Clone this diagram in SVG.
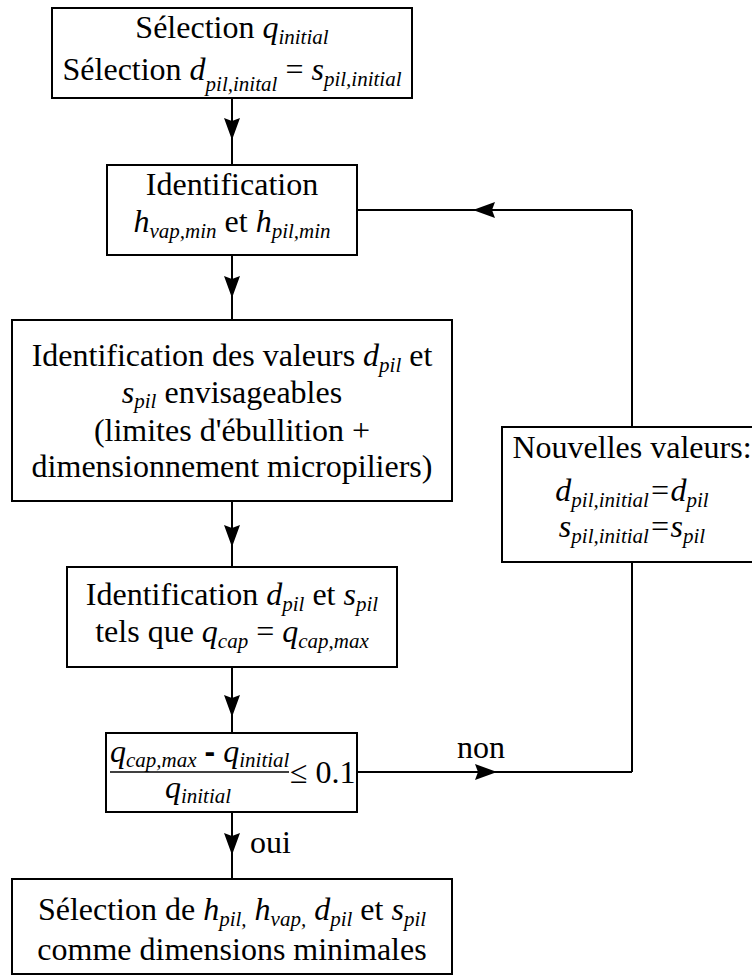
<svg xmlns="http://www.w3.org/2000/svg" width="752" height="976" viewBox="0 0 752 976">
<style>
.box{fill:#fff;stroke:#000;stroke-width:2}
.t{font-family:"Liberation Serif","Times New Roman",serif;font-size:32px;fill:#000}
.m{text-anchor:middle}
.i{font-style:italic}
.s{font-style:italic;font-size:21px}
.mn{font-family:"Liberation Sans",Arial,sans-serif;font-weight:bold}
.c{fill:none;stroke:#000;stroke-width:2}
</style>
<defs>
<marker id="arr" viewBox="0 0 22 16" refX="22" refY="8" markerWidth="22" markerHeight="16" markerUnits="userSpaceOnUse" orient="auto"><path d="M0,0 L22,8 L0,16 L3,8 z" fill="#000"/></marker>
</defs>
<rect width="752" height="976" fill="#fff"/>
<g id="connectors">
<path class="c" d="M232,98 L232,140 L232,165" marker-mid="url(#arr)"/>
<path class="c" d="M232,255 L232,298 L232,320" marker-mid="url(#arr)"/>
<path class="c" d="M232,501 L232,547 L232,567" marker-mid="url(#arr)"/>
<path class="c" d="M232,667 L232,717 L232,733" marker-mid="url(#arr)"/>
<path class="c" d="M232,812 L232,855 L232,879" marker-mid="url(#arr)"/>
<path class="c" d="M357,772 L497,772 L632,772" marker-mid="url(#arr)"/>
<path class="c" d="M632,772 L632,562"/>
<path class="c" d="M632,427 L632,210"/>
<path class="c" d="M632,210 L473,210 L357,210" marker-mid="url(#arr)"/>
<text class="t" x="457" y="758">non</text>
<text class="t" x="250" y="853">oui</text>
</g>
<g id="n1">
<rect class="box" x="52" y="8" width="360" height="90"/>
<text class="t m" x="232" y="38">Sélection <tspan class="i">q</tspan><tspan class="s" dy="6">initial</tspan></text>
<text class="t m" x="232" y="80">Sélection <tspan class="i">d</tspan><tspan class="s" dy="11">pil,inital</tspan><tspan dy="-11"> = </tspan><tspan class="i">s</tspan><tspan class="s" dy="6">pil,initial</tspan></text>
</g>
<g id="n2">
<rect class="box" x="107" y="165" width="250" height="90"/>
<text class="t m" x="232" y="195">Identification</text>
<text class="t m" x="232" y="232"><tspan class="i">h</tspan><tspan class="s" dy="6">vap,min</tspan><tspan dy="-6"> et </tspan><tspan class="i">h</tspan><tspan class="s" dy="6">pil,min</tspan></text>
</g>
<g id="n3">
<rect class="box" x="12" y="320" width="440" height="181"/>
<text class="t m" x="232" y="366">Identification des valeurs <tspan class="i">d</tspan><tspan class="s" dy="6">pil</tspan><tspan dy="-6"> et</tspan></text>
<text class="t m" x="232" y="403"><tspan class="i">s</tspan><tspan class="s" dy="5">pil</tspan><tspan dy="-5"> envisageables</tspan></text>
<text class="t m" x="232" y="441">(limites d'ébullition +</text>
<text class="t m" x="232" y="477">dimensionnement micropiliers)</text>
</g>
<g id="n4">
<rect class="box" x="67" y="567" width="330" height="100"/>
<text class="t m" x="232" y="605">Identification <tspan class="i">d</tspan><tspan class="s" dy="6">pil</tspan><tspan dy="-6"> et </tspan><tspan class="i">s</tspan><tspan class="s" dy="6">pil</tspan></text>
<text class="t m" x="232" y="642">tels que <tspan class="i">q</tspan><tspan class="s" dy="6">cap</tspan><tspan dy="-6"> = </tspan><tspan class="i">q</tspan><tspan class="s" dy="6">cap,max</tspan></text>
</g>
<g id="n5">
<rect class="box" x="106" y="733" width="251" height="79"/>
<text class="t" x="110" y="762"><tspan class="i">q</tspan><tspan class="s" dy="5">cap,max</tspan><tspan dy="-5"> </tspan><tspan class="mn">-</tspan> <tspan class="i">q</tspan><tspan class="s" dy="5">initial</tspan></text>
<line x1="110" y1="772" x2="289" y2="772" stroke="#000" stroke-width="1.5"/>
<text class="t m" x="198" y="798"><tspan class="i">q</tspan><tspan class="s" dy="5">initial</tspan></text>
<text class="t" x="290" y="783">≤ 0.1</text>
</g>
<g id="n6">
<rect class="box" x="502" y="427" width="260" height="135"/>
<text class="t m" x="632" y="458">Nouvelles valeurs:</text>
<text class="t m" x="632" y="501"><tspan class="i">d</tspan><tspan class="s" dy="6">pil,initial</tspan><tspan class="i" dy="-6">=d</tspan><tspan class="s" dy="6">pil</tspan></text>
<text class="t m" x="632" y="537"><tspan class="i">s</tspan><tspan class="s" dy="6">pil,initial</tspan><tspan class="i" dy="-6">=s</tspan><tspan class="s" dy="6">pil</tspan></text>
</g>
<g id="n7">
<rect class="box" x="12" y="879" width="440" height="95"/>
<text class="t m" x="232" y="920">Sélection de <tspan class="i">h</tspan><tspan class="s" dy="6">pil,</tspan><tspan dy="-6"> </tspan><tspan class="i">h</tspan><tspan class="s" dy="6">vap,</tspan><tspan dy="-6"> </tspan><tspan class="i">d</tspan><tspan class="s" dy="6">pil</tspan><tspan dy="-6"> et </tspan><tspan class="i">s</tspan><tspan class="s" dy="6">pil</tspan></text>
<text class="t m" x="232" y="960">comme dimensions minimales</text>
</g>
</svg>
